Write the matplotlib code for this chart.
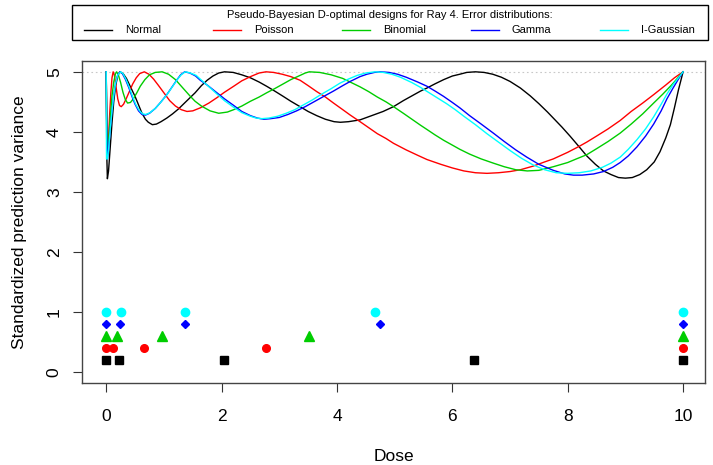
import numpy as np
import matplotlib.pyplot as plt
from matplotlib.patches import Rectangle
from matplotlib.lines import Line2D

plt.rcParams['font.family'] = ['Liberation Sans', 'DejaVu Sans']

# standardized prediction variance curves
normal_x = [0, 0.01, 0.02, 0.04, 0.07, 0.1, 0.13, 0.16, 0.2, 0.24, 0.3, 0.35, 0.39,
            0.45, 0.5, 0.56, 0.62, 0.68, 0.73, 0.8, 0.87, 0.95, 1.05, 1.15, 1.25, 1.4,
            1.54, 1.65, 1.75, 1.85, 1.95, 2.05, 2.2, 2.35, 2.5, 2.65, 2.78, 2.92, 3.07,
            3.2, 3.36, 3.5, 3.65, 3.8, 3.95, 4.06, 4.2, 4.4, 4.6, 4.8, 4.98, 5.15, 5.3,
            5.45, 5.56, 5.7, 5.85, 6.0, 6.13, 6.25, 6.4, 6.55, 6.7, 6.85, 7.0, 7.18,
            7.35, 7.5, 7.65, 7.75, 7.9, 8.04, 8.2, 8.33, 8.48, 8.62, 8.75, 8.88, 9.0,
            9.12, 9.25, 9.37, 9.5, 9.6, 9.7, 9.78, 9.85, 9.92, 10]
normal_y = [5, 3.6, 3.22, 3.35, 3.75, 4.15, 4.5, 4.75, 4.94, 5, 4.96, 4.89, 4.81,
            4.69, 4.59, 4.45, 4.31, 4.21, 4.16, 4.12, 4.13, 4.17, 4.23, 4.3, 4.38, 4.52,
            4.65, 4.77, 4.86, 4.93, 4.98, 5, 4.99, 4.95, 4.9, 4.83, 4.76, 4.68, 4.59,
            4.51, 4.42, 4.34, 4.27, 4.21, 4.17, 4.16, 4.17, 4.2, 4.27, 4.34, 4.42, 4.52, 4.6,
            4.68, 4.73, 4.8, 4.87, 4.93, 4.96, 4.99, 5, 4.99, 4.96, 4.91, 4.84, 4.73,
            4.6, 4.47, 4.33, 4.23, 4.08, 3.93, 3.75, 3.6, 3.46, 3.35, 3.29, 3.24, 3.23,
            3.24, 3.29, 3.37, 3.5, 3.67, 3.9, 4.12, 4.4, 4.7, 5]

poisson_x = [0, 0.01, 0.02, 0.04, 0.06, 0.08, 0.1, 0.12, 0.14, 0.17, 0.2, 0.23, 0.26,
             0.3, 0.35, 0.4, 0.46, 0.52, 0.58, 0.66, 0.74, 0.82, 0.9, 1.0, 1.1, 1.2, 1.3,
             1.4, 1.5, 1.63, 1.78, 1.92, 2.05, 2.21, 2.35, 2.5, 2.65, 2.77, 2.9, 3.05,
             3.2, 3.36, 3.5, 3.65, 3.8, 3.94, 4.1, 4.23, 4.4, 4.52, 4.7, 4.85, 4.98, 5.2,
             5.4, 5.56, 5.8, 6.0, 6.2, 6.4, 6.6, 6.8, 7.0, 7.18, 7.4, 7.6, 7.75, 8.0, 8.2,
             8.33, 8.5, 8.7, 8.91, 9.1, 9.3, 9.49, 9.7, 9.85, 10]
poisson_y = [5, 4.0, 3.65, 3.9, 4.3, 4.65, 4.9, 5, 4.95, 4.75, 4.55, 4.44, 4.42,
             4.46, 4.56, 4.67, 4.8, 4.9, 4.97, 5, 4.96, 4.88, 4.78, 4.65, 4.52, 4.43, 4.37,
             4.34, 4.35, 4.4, 4.48, 4.57, 4.66, 4.76, 4.85, 4.92, 4.98, 5, 4.99, 4.96,
             4.92, 4.86, 4.77, 4.67, 4.58, 4.48, 4.37, 4.28, 4.17, 4.09, 3.97, 3.89, 3.81, 3.7,
             3.61, 3.54, 3.46, 3.4, 3.35, 3.32, 3.31, 3.32, 3.34, 3.37, 3.43, 3.5, 3.55, 3.66,
             3.76, 3.83, 3.93, 4.05, 4.19, 4.34, 4.48, 4.62, 4.78, 4.9, 5]

binomial_x = [0, 0.01, 0.02, 0.04, 0.07, 0.1, 0.13, 0.16, 0.18, 0.21, 0.25, 0.29, 0.33,
              0.37, 0.42, 0.47, 0.53, 0.59, 0.67, 0.75, 0.85, 0.97, 1.08, 1.2, 1.32, 1.45,
              1.54, 1.65, 1.8, 1.95, 2.1, 2.21, 2.35, 2.5, 2.65, 2.78, 2.92, 3.07, 3.2,
              3.36, 3.45, 3.52, 3.7, 3.9, 4.1, 4.25, 4.4, 4.55, 4.7, 4.85, 4.98, 5.15, 5.3,
              5.45, 5.56, 5.7, 5.85, 6.0, 6.13, 6.3, 6.5, 6.71, 6.9, 7.1, 7.3, 7.5, 7.75,
              8.0, 8.15, 8.33, 8.5, 8.7, 8.91, 9.1, 9.3, 9.49, 9.65, 9.8, 9.9, 10]
binomial_y = [5, 4.0, 3.7, 3.85, 4.25, 4.6, 4.83, 4.97, 5, 4.95, 4.82, 4.66, 4.54,
              4.48, 4.49, 4.55, 4.65, 4.76, 4.87, 4.95, 4.99, 5, 4.96, 4.87, 4.74, 4.6,
              4.51, 4.43, 4.35, 4.31, 4.33, 4.37, 4.43, 4.51, 4.58, 4.65, 4.72, 4.8, 4.87,
              4.94, 4.98, 5, 4.99, 4.95, 4.89, 4.82, 4.75, 4.67, 4.58, 4.5, 4.42, 4.31, 4.21,
              4.11, 4.04, 3.95, 3.86, 3.78, 3.71, 3.63, 3.55, 3.48, 3.42, 3.37, 3.35, 3.36, 3.42,
              3.49, 3.55, 3.62, 3.72, 3.84, 3.98, 4.13, 4.3, 4.48, 4.63, 4.78, 4.89, 5]

gamma_x = [0, 0.01, 0.02, 0.04, 0.07, 0.1, 0.13, 0.16, 0.2, 0.24, 0.28, 0.33, 0.39,
           0.45, 0.5, 0.56, 0.62, 0.68, 0.75, 0.85, 0.95, 1.05, 1.15, 1.22, 1.29, 1.36,
           1.45, 1.55, 1.63, 1.75, 1.92, 2.05, 2.21, 2.35, 2.5, 2.62, 2.73, 2.85, 3.0,
           3.15, 3.3, 3.45, 3.6, 3.75, 3.94, 4.1, 4.23, 4.4, 4.52, 4.65, 4.75, 4.9, 5.05,
           5.2, 5.4, 5.56, 5.7, 5.85, 6.0, 6.13, 6.3, 6.5, 6.71, 6.9, 7.1, 7.29, 7.5,
           7.75, 7.95, 8.1, 8.25, 8.45, 8.62, 8.78, 8.91, 9.05, 9.2, 9.35, 9.49, 9.62,
           9.72, 9.82, 9.92, 10]
gamma_y = [5, 3.9, 3.55, 3.7, 4.05, 4.35, 4.6, 4.8, 4.95, 5, 4.97, 4.88, 4.74,
           4.58, 4.46, 4.35, 4.29, 4.28, 4.31, 4.39, 4.5, 4.62, 4.76, 4.86, 4.95, 5,
           4.98, 4.93, 4.86, 4.78, 4.65, 4.55, 4.44, 4.34, 4.27, 4.23, 4.21, 4.22, 4.24,
           4.29, 4.35, 4.42, 4.5, 4.58, 4.68, 4.77, 4.84, 4.92, 4.96, 4.99, 5, 4.99, 4.96,
           4.91, 4.83, 4.76, 4.68, 4.59, 4.49, 4.4, 4.27, 4.13, 3.98, 3.84, 3.7, 3.58, 3.46,
           3.36, 3.3, 3.28, 3.28, 3.3, 3.34, 3.41, 3.49, 3.6, 3.75, 3.93, 4.13, 4.35,
           4.55, 4.72, 4.88, 5]

igauss_x = [0, 0.005, 0.02, 0.04, 0.07, 0.1, 0.13, 0.16, 0.2, 0.25, 0.29, 0.34, 0.4,
            0.46, 0.51, 0.57, 0.63, 0.69, 0.76, 0.86, 0.96, 1.06, 1.16, 1.23, 1.3, 1.37,
            1.46, 1.56, 1.64, 1.76, 1.92, 2.05, 2.21, 2.35, 2.5, 2.6, 2.7, 2.82, 2.97,
            3.12, 3.27, 3.42, 3.57, 3.72, 3.9, 4.05, 4.2, 4.35, 4.5, 4.66, 4.8, 4.95, 5.1,
            5.3, 5.45, 5.6, 5.75, 5.9, 6.05, 6.2, 6.4, 6.6, 6.8, 7.0, 7.2, 7.4, 7.6, 7.8,
            8.0, 8.2, 8.4, 8.6, 8.75, 8.91, 9.05, 9.2, 9.35, 9.49, 9.62, 9.72, 9.82,
            9.92, 10]
igauss_y = [5, 3.55, 3.55, 3.7, 4.05, 4.35, 4.6, 4.8, 4.95, 5, 4.97, 4.88, 4.74,
            4.58, 4.46, 4.36, 4.3, 4.29, 4.32, 4.4, 4.51, 4.63, 4.77, 4.87, 4.95, 5,
            4.98, 4.94, 4.87, 4.77, 4.63, 4.52, 4.41, 4.32, 4.26, 4.23, 4.22, 4.23, 4.26,
            4.31, 4.37, 4.45, 4.53, 4.62, 4.72, 4.81, 4.88, 4.94, 4.98, 5, 4.99, 4.96, 4.91,
            4.82, 4.74, 4.65, 4.56, 4.47, 4.37, 4.26, 4.12, 3.97, 3.83, 3.69, 3.56, 3.45,
            3.37, 3.32, 3.31, 3.32, 3.35, 3.41, 3.48, 3.58, 3.71, 3.87, 4.05, 4.25, 4.46,
            4.63, 4.78, 4.9, 5]

# design support points
normal_pts = [0, 0.23, 2.05, 6.38, 10]
poisson_pts = [0, 0.12, 0.66, 2.77, 10]
binomial_pts = [0, 0.18, 0.97, 3.52, 10]
gamma_pts = [0, 0.24, 1.36, 4.75, 10]
igauss_pts = [0, 0.25, 1.37, 4.66, 10]
pts_level = [0.2, 0.4, 0.6, 0.8, 1.0]

labels = ['Normal', 'Poisson', 'Binomial', 'Gamma', 'I-Gaussian']
colors = ['black', '#ff0000', '#00cd00', '#0000ff', '#00ffff']
markers = ['s', 'o', '^', 'D', 'o']
msizes = [5.5, 5.5, 6.5, 4.2, 6]

curves = [(normal_x, normal_y), (poisson_x, poisson_y), (binomial_x, binomial_y),
          (gamma_x, gamma_y), (igauss_x, igauss_y)]
points = [normal_pts, poisson_pts, binomial_pts, gamma_pts, igauss_pts]

fig = plt.figure(figsize=(7.13, 4.65), dpi=100)
ax = fig.add_axes([82 / 713, 82 / 465, 623 / 713, 322 / 465])

ax.axhline(5, color='#c8c8c8', lw=0.8, ls=(0, (1.5, 2.5)), zorder=1)
for (cx, cy), c in zip(curves, colors):
    ax.plot(cx, cy, color=c, lw=1.0, zorder=2)
for p, lev, c, m, ms in zip(points, pts_level, colors, markers, msizes):
    ax.plot(p, [lev] * len(p), ls='none', marker=m, ms=ms, color=c, mec=c, zorder=3)

ax.set_xlim(-0.42, 10.38)
ax.set_ylim(-0.18, 5.18)
ax.set_xticks(np.arange(0, 11, 2))
ax.set_yticks(np.arange(0, 6))
ax.tick_params(direction='out', length=6.5, width=0.8, labelsize=12.5,
               color='#333333')
ax.tick_params(axis='x', pad=12)
ax.tick_params(axis='y', pad=8)
plt.setp(ax.get_yticklabels(), rotation=90, va='center')
for s in ax.spines.values():
    s.set_color('#444444')
    s.set_linewidth(1.0)
ax.set_xlabel('Dose', fontsize=12.5, labelpad=18)
ax.set_ylabel('Standardized prediction variance', fontsize=12.5, labelpad=14)

# legend box at the top, R style
fig.patches.append(Rectangle((72 / 713, 1 - 40 / 465), 636 / 713, 35 / 465,
                             transform=fig.transFigure, fill=False,
                             edgecolor='black', lw=1.0))
fig.text(390 / 713, 1 - 15 / 465,
         'Pseudo-Bayesian D-optimal designs for Ray 4. Error distributions:',
         ha='center', va='center', fontsize=8)
for i, (lab, c) in enumerate(zip(labels, colors)):
    x0 = 84 + 129 * i
    fig.add_artist(Line2D([x0 / 713, (x0 + 28) / 713], [1 - 30 / 465] * 2,
                          transform=fig.transFigure, color=c, lw=1.0))
    fig.text((x0 + 41) / 713, 1 - 30 / 465, lab, ha='left', va='center', fontsize=8)

fig.savefig('out.png', dpi=100)
